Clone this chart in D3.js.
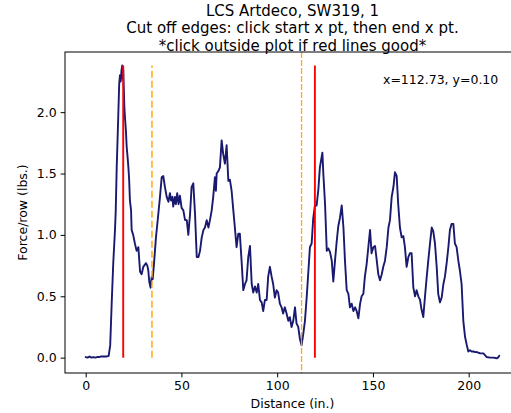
<!DOCTYPE html>
<html>
<head>
<meta charset="utf-8">
<script src="https://cdn.jsdelivr.net/npm/d3@7/dist/d3.min.js"></script>
<style>
html,body{margin:0;padding:0;background:#fff;overflow:hidden;}
svg{display:block;font-family:"DejaVu Sans",sans-serif;}
</style>
</head>
<body>
<svg id="chart" width="511" height="413"></svg>
<script>
const titleLines = ["LCS Artdeco, SW319, 1", "Cut off edges: click start x pt, then end x pt.", "*click outside plot if red lines good*"];
const xLabel = "Distance (in.)";
const yLabel = "Force/row (lbs.)";
const cursorText = "x=112.73, y=0.10";
const xTicks = [0, 50, 100, 150, 200];
const yTicks = [0.0, 0.5, 1.0, 1.5, 2.0];

const distance = [0,1,2,3,4,5,6,7,8,9,10,11,12,12.8,13.6,14.4,15.3,15.7,16.2,17.0,17.5,17.9,18.3,18.7,19.1,19.4,19.6,19.9,20.2,20.5,21.0,21.4,21.9,22.3,22.7,23.1,23.7,24.0,24.8,25.7,26.6,27.5,28.4,29.2,30.1,31.5,32.2,32.7,33.2,33.9,34.5,35.0,35.7,36.7,37.8,38.8,39.7,40.5,41.4,42.3,43.2,44.0,44.6,45.3,45.7,46.6,47.1,47.8,48.5,49.2,50.1,51.0,51.9,52.8,53.6,54.5,55.3,56.2,57.1,58.0,58.9,59.7,60.6,61.5,62.3,63.2,64.1,64.9,65.8,66.6,67.5,68.0,68.4,69.3,70.1,71.0,71.8,72.7,73.6,74.5,75.3,76.2,77.1,77.9,78.8,79.7,80.5,81.4,82.3,83.2,84.0,84.9,85.8,86.7,87.5,88.4,89.3,90.1,91.0,91.9,92.7,93.6,94.5,95.3,96.2,97.1,97.9,98.8,99.7,100.5,101.4,102.3,103.1,104.0,104.9,105.8,106.6,107.5,108.4,109.3,110.1,111.0,111.9,112.73,113.6,114.5,115.4,116.2,117.1,118.0,118.8,119.7,120.6,121.5,122.3,123.6,124.1,125.0,125.9,126.7,127.6,128.5,129.3,130.2,131.1,131.9,132.8,133.7,134.6,135.4,136.3,137.2,138.0,138.9,139.8,140.7,141.5,142.4,143.3,144.1,145.0,145.8,146.7,147.6,148.5,149.3,150.2,151.1,152.0,152.8,153.7,154.6,155.4,156.3,157.2,158.1,158.9,159.8,160.7,161.5,162.4,163.2,164.1,165.0,165.9,166.7,167.6,168.5,169.3,170.2,171.1,172.0,172.8,173.7,174.6,175.4,176.3,177.2,178.1,178.9,179.8,180.7,181.5,182.4,183.3,184.1,185.0,185.9,186.8,187.6,188.5,189.4,190.2,191.1,192.0,192.8,193.7,194.6,195.4,196.3,197.2,198.1,198.9,199.8,200.7,201.6,202.5,203.4,204.2,205.1,206.0,207.7,208.5,209.4,211.1,212.9,214.6,215.3,216.0];
const force = [0.005,0.0,0.01,0.0,0.005,0.0,0.005,0.005,0.01,0.01,0.01,0.01,0.015,0.1,0.45,0.77,1.04,1.2,1.55,1.96,2.23,2.30,2.25,2.34,2.38,2.27,2.35,2.2,2.04,1.96,1.85,1.72,1.63,1.55,1.45,1.28,1.2,1.04,1.0,0.93,0.87,0.9,0.70,0.68,0.74,0.77,0.75,0.71,0.62,0.57,0.66,0.64,0.77,0.98,1.15,1.31,1.47,1.48,1.39,1.31,1.27,1.34,1.28,1.31,1.23,1.31,1.25,1.34,1.25,1.32,1.22,1.2,1.12,1.12,1.0,1.17,1.39,1.42,1.17,0.82,0.82,0.87,0.98,1.04,1.06,1.12,1.06,1.12,1.2,1.31,1.47,1.36,1.5,1.52,1.55,1.77,1.66,1.58,1.73,1.44,1.45,1.36,1.2,1.06,0.9,1.01,1.01,0.79,0.55,0.60,0.63,0.82,0.91,0.60,0.53,0.58,0.53,0.6,0.47,0.45,0.38,0.47,0.47,0.66,0.74,0.66,0.6,0.49,0.55,0.53,0.44,0.41,0.36,0.41,0.36,0.30,0.33,0.25,0.30,0.41,0.28,0.25,0.15,0.10,0.19,0.30,0.49,0.68,0.90,0.93,1.13,1.24,1.24,1.37,1.55,1.67,1.5,1.25,0.87,0.89,0.86,0.79,0.62,0.79,0.95,1.07,1.14,1.24,1.06,0.79,0.55,0.52,0.41,0.44,0.38,0.41,0.38,0.32,0.44,0.5,0.52,0.66,0.76,0.9,1.04,0.85,0.9,0.91,0.79,0.68,0.63,0.68,0.74,0.79,0.9,1.06,1.12,1.31,1.39,1.51,1.48,1.25,1.06,0.98,0.99,0.90,0.74,0.82,0.85,0.85,0.57,0.5,0.55,0.5,0.47,0.39,0.33,0.5,0.66,0.79,0.93,1.06,1.03,0.93,0.74,0.52,0.45,0.49,0.6,0.66,0.77,0.9,1.04,1.09,1.09,0.93,0.90,0.79,0.71,0.6,0.30,0.17,0.11,0.05,0.06,0.05,0.05,0.045,0.046,0.04,0.035,0.035,0.02,0.005,0.0,0.0,-0.005,0.0,0.015];

const cutLines = [19.6, 119.7];      // red
const prevCut = [34.6];              // orange dashed (0..max)
const cursorX = [112.73];            // orange dashed cursor (full height)

const svg = d3.select("#chart");
const L = 65, R = 520, T = 52, B = 373;
const x = d3.scaleLinear().domain([-10.8, 226.8]).range([L, R]);
const y = d3.scaleLinear().domain([-0.125, 2.49]).range([B, T]);
const yMax = d3.max(force);

svg.append("rect").attr("width",511).attr("height",413).attr("fill","#fff");

// data line
const data = distance.map((d,i)=>[d, force[i]]);
svg.append("path").datum(data)
  .attr("fill","none").attr("stroke","#191970").attr("stroke-width",1.9)
  .attr("stroke-linejoin","round").attr("stroke-linecap","round")
  .attr("d", d3.line().x(d=>x(d[0])).y(d=>y(d[1])));

// red cut lines
svg.selectAll(".cut").data(cutLines).enter().append("line")
  .attr("x1",d=>x(d)).attr("x2",d=>x(d)).attr("y1",y(0)).attr("y2",y(yMax))
  .attr("stroke","red").attr("stroke-width",1.9);

// orange dashed previous
svg.selectAll(".prev").data(prevCut).enter().append("line")
  .attr("x1",d=>x(d)).attr("x2",d=>x(d)).attr("y1",y(0)).attr("y2",y(yMax))
  .attr("stroke","orange").attr("stroke-opacity",0.75).attr("stroke-width",1.9)
  .attr("stroke-dasharray","7,3");

// cursor line
svg.selectAll(".cur").data(cursorX).enter().append("line")
  .attr("x1",d=>x(d)).attr("x2",d=>x(d)).attr("y1",T).attr("y2",B)
  .attr("stroke","orange").attr("stroke-opacity",0.95).attr("stroke-width",1.3)
  .attr("stroke-dasharray","6,2");

// axes
const xAxis = d3.axisBottom(x).tickValues(xTicks).tickFormat(d3.format("d")).tickSizeOuter(0).tickSize(4.4).tickPadding(4);
const yAxis = d3.axisLeft(y).tickValues(yTicks).tickFormat(d3.format(".1f")).tickSizeOuter(0).tickSize(4.4).tickPadding(4);
const gx = svg.append("g").attr("transform",`translate(0,${B})`).call(xAxis);
const gy = svg.append("g").attr("transform",`translate(${L},0)`).call(yAxis);
[gx,gy].forEach(g=>{
  g.select(".domain").remove();
  g.selectAll(".tick line").attr("stroke","#000").attr("stroke-width",1);
  g.selectAll(".tick text").attr("fill","#000").style("font-size","12.5px").style("font-family","DejaVu Sans");
});

// frame
svg.append("rect").attr("x",L).attr("y",T).attr("width",R-L).attr("height",B-T)
  .attr("fill","none").attr("stroke","#000").attr("stroke-width",1);

// multi-line title
const title = svg.append("text").attr("text-anchor","middle").style("font-size","15px").attr("fill","#000");
title.selectAll("tspan").data(titleLines).enter().append("tspan")
  .attr("x",(L+R)/2).attr("y",(d,i)=>15.5+i*17.5).text(d=>d);

svg.append("text").attr("x",(L+R)/2).attr("y",408).attr("text-anchor","middle")
  .style("font-size","12.5px").attr("fill","#000").text(xLabel);
svg.append("text").attr("transform",`translate(27,${(T+B)/2}) rotate(-90)`).attr("text-anchor","middle")
  .style("font-size","12.5px").attr("fill","#000").text(yLabel);

svg.append("text").attr("x",383).attr("y",84).style("font-size","12.5px").attr("fill","#000").text(cursorText);
</script>
</body>
</html>
